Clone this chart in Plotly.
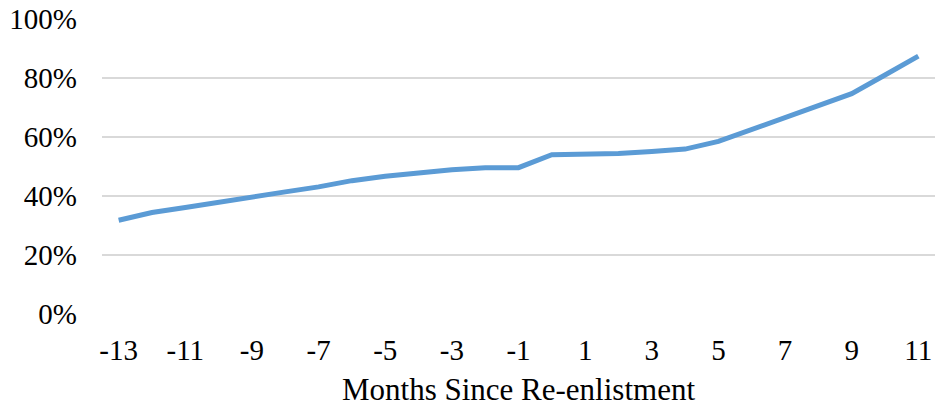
import plotly.graph_objects as go

# Months relative to re-enlistment and the share observed at each month
months = list(range(-13, 12))
share = [31.8, 34.4, 36.1, 38.0, 39.8, 41.4, 43.1, 45.2, 46.7, 47.9, 48.9, 49.6, 49.6,
         54.0, 54.2, 54.4, 55.1, 55.9, 58.5, 62.6, 66.6, 70.7, 74.7, 81.0, 87.4]

x_ticks = list(range(-13, 12, 2))
y_ticks = [0, 20, 40, 60, 80, 100]
y_tick_text = [f"{v}%" for v in y_ticks]

font_family = "Liberation Serif, Times New Roman, serif"

fig = go.Figure(
    go.Scatter(
        x=months,
        y=share,
        mode="lines",
        line=dict(color="#5B9BD5", width=5),
        hoverinfo="skip",
    )
)

fig.update_layout(
    width=937,
    height=407,
    margin=dict(l=102, r=2, t=19, b=93),
    plot_bgcolor="white",
    paper_bgcolor="white",
    showlegend=False,
    font=dict(family=font_family, size=29, color="#000000"),
)

fig.update_xaxes(
    range=[-13.5, 11.5],
    tickmode="array",
    tickvals=x_ticks,
    ticktext=[str(v) for v in x_ticks],
    showgrid=False,
    zeroline=False,
    showline=False,
    ticks="",
    ticklabelstandoff=16,
    title=dict(text="Months Since Re-enlistment", standoff=16,
               font=dict(family=font_family, size=31)),
)

fig.update_yaxes(
    range=[0, 100],
    tickmode="array",
    tickvals=y_ticks,
    ticktext=y_tick_text,
    showgrid=True,
    gridcolor="#D9D9D9",
    gridwidth=1.5,
    zeroline=False,
    showline=False,
    ticks="",
    ticklabelstandoff=24,
)

fig.write_html("out.html")
